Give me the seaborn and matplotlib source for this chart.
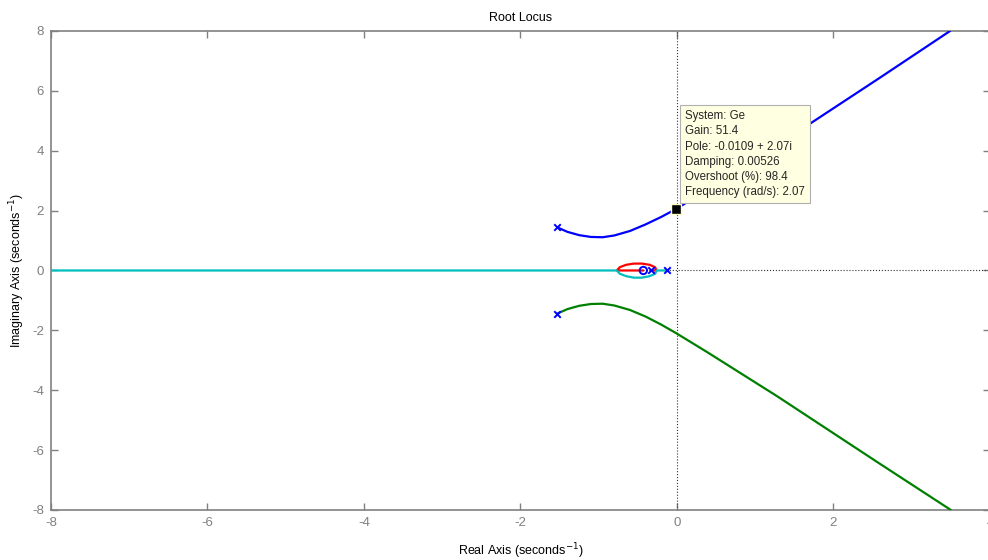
import matplotlib
matplotlib.use("Agg")
import matplotlib.pyplot as plt
import pandas as pd
import seaborn as sns

# branch points (real, imag)
blue_re = [-1.53, -1.40, -1.25, -1.10, -0.95, -0.80, -0.60, -0.40, -0.20, 0.0, 0.40, 0.85, 1.71, 2.60, 3.49]
blue_im = [1.44, 1.29, 1.18, 1.12, 1.11, 1.17, 1.32, 1.54, 1.79, 2.07, 2.72, 3.45, 4.92, 6.45, 8.0]
green_re = [-1.53, -1.40, -1.25, -1.10, -0.95, -0.80, -0.60, -0.40, -0.20, 0.0, 0.40, 1.28, 2.56, 3.50]
green_im = [-1.44, -1.29, -1.18, -1.12, -1.11, -1.17, -1.32, -1.54, -1.81, -2.11, -2.75, -4.20, -6.40, -8.0]
red_re = [-0.33, -0.26, -0.28, -0.35, -0.45, -0.55, -0.65, -0.73, -0.77, -0.43]
red_im = [0.0, 0.0, 0.11, 0.19, 0.23, 0.23, 0.19, 0.11, 0.0, 0.0]
cyan_re = [-0.13, -0.26, -0.28, -0.35, -0.45, -0.55, -0.65, -0.73, -0.77, -8.0]
cyan_im = [0.0, 0.0, -0.11, -0.19, -0.24, -0.24, -0.19, -0.11, 0.0, 0.0]

pole_re = [-1.53, -1.53, -0.33, -0.13]
pole_im = [1.44, -1.44, 0.0, 0.0]
zero_re = [-0.43]
zero_im = [0.0]

tip_re, tip_im = -0.0109, 2.07
tip_lines = ["System: Ge", "Gain: 51.4", "Pole: -0.0109 + 2.07i", "Damping: 0.00526",
             "Overshoot (%): 98.4", "Frequency (rad/s): 2.07"]

x_ticks = [-8, -6, -4, -2, 0, 2, 4]
y_ticks = [-8, -6, -4, -2, 0, 2, 4, 6, 8]

sns.set_theme(style="white")
plt.rcParams["font.family"] = ["Liberation Sans", "DejaVu Sans"]
plt.rcParams["axes.unicode_minus"] = False
grey = "#808080"

fig = plt.figure(figsize=(9.88, 5.6), dpi=100)
ax = fig.add_axes([0.0516, 0.0893, 0.9504, 0.8554])

# dotted axis lines
ax.axvline(0, color="#333333", ls=":", lw=0.8, zorder=1)
ax.axhline(0, color="#333333", ls=":", lw=0.8, zorder=1)

branches = [(blue_re, blue_im, "#0000FF"), (green_re, green_im, "#008000"),
            (red_re, red_im, "#FF0000"), (cyan_re, cyan_im, "#00BFBF")]
for re, im, col in branches:
    df = pd.DataFrame({"re": re, "im": im})
    sns.lineplot(data=df, x="re", y="im", sort=False, estimator=None, color=col, lw=1.6, ax=ax, zorder=3)

sns.scatterplot(x=pole_re, y=pole_im, marker="x", color="#0000FF", s=22, linewidth=1.4, ax=ax, zorder=4)
sns.scatterplot(x=zero_re, y=zero_im, marker="o", facecolor="none", edgecolor="#0000FF", s=28,
                linewidth=1.4, ax=ax, zorder=4)

# data tip
ax.scatter([tip_re], [tip_im], marker="s", s=45, color="black", edgecolor="#FFFFC0", linewidth=1, zorder=6)
ax.text(0.10, 5.35, "\n".join(tip_lines), fontsize=8.3, va="top", ha="left", linespacing=1.35, zorder=7,
        bbox=dict(boxstyle="square,pad=0.45", fc="#FFFFE1", ec="#B0B0B0", lw=0.8))

ax.set_xlim(-8, 4)
ax.set_ylim(-8, 8)
ax.set_xticks(x_ticks)
ax.set_yticks(y_ticks)
ax.tick_params(direction="in", length=5, width=1, colors=grey, labelsize=9.5,
               top=True, right=True, bottom=True, left=True, pad=5)
for sp in ax.spines.values():
    sp.set_color(grey)
    sp.set_linewidth(1.2)
    sp.set_visible(True)

ax.set_xlabel("Real Axis (seconds$^{-1}$)", fontsize=9, color="black", labelpad=9)
ax.set_ylabel("Imaginary Axis (seconds$^{-1}$)", fontsize=9, color="black", labelpad=4)
ax.set_title("Root Locus", fontsize=9, color="black", pad=7)

fig.savefig("out.png", dpi=100)
